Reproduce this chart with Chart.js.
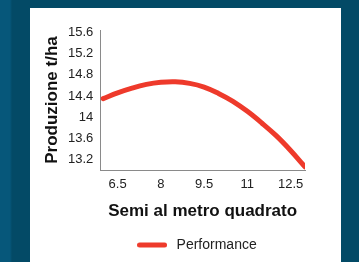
<!DOCTYPE html>
<html>
<head>
<meta charset="utf-8">
<script src="https://cdn.jsdelivr.net/npm/chart.js@4/dist/chart.umd.min.js"></script>
<style>
html,body{margin:0;padding:0;}
body{width:359px;height:262px;overflow:hidden;background:linear-gradient(90deg,#06577a 0,#06577a 10px,#034a66 12px,#034a66 100%);position:relative;font-family:"Liberation Sans",Arial,sans-serif;}
.card{position:absolute;left:30px;top:8px;width:311px;height:254px;background:#fff;}
canvas{display:block;}
</style>
</head>
<body>
<div class="card"><canvas id="c" width="311" height="254"></canvas></div>
<script>
/* ===== DATA ===== */
const seeds=[6,6.5,7,7.5,8,8.5,9,9.5,10,10.5,11,11.5,12,12.5,13];
const yields=[14.35,14.46,14.55,14.62,14.66,14.67,14.64,14.57,14.45,14.30,14.11,13.89,13.65,13.37,13.06];
const xTicks=[6.5,8,9.5,11,12.5];
const yTicks=[13.2,13.6,14,14.4,14.8,15.2,15.6];
const seriesName="Performance";
const xTitle="Semi al metro quadrato";
const yTitle="Produzione t/ha";

const red="#ee3a2b";
const font="'Liberation Sans', Arial, sans-serif";

/* legend swatch: short thick line with round ends */
const swatch=document.createElement("canvas");
swatch.width=30;swatch.height=6;
const sctx=swatch.getContext("2d");
sctx.strokeStyle=red;sctx.lineWidth=5;sctx.lineCap="round";
sctx.beginPath();sctx.moveTo(2.5,3);sctx.lineTo(27.5,3);sctx.stroke();

/* nudge legend a bit left, like the original */
const legendShift={
id:'legendShift',
afterLayout(chart){chart.legend.left-=7;chart.legend.right-=7;}
};

new Chart(document.getElementById("c"),{
type:'line',
data:{
datasets:[{
label:seriesName,
data:seeds.map((s,i)=>({x:s,y:yields[i]})),
borderColor:red,
backgroundColor:red,
borderWidth:5,
borderCapStyle:'round',
tension:.4,
pointRadius:0
}]
},
options:{
responsive:false,
animation:false,
layout:{padding:{left:14,right:36,top:22,bottom:0}},
plugins:{
legend:{
position:'bottom',
fullSize:false,
labels:{
usePointStyle:true,
pointStyleWidth:35,
boxHeight:6,
color:'#222',
padding:4,
font:{family:font,size:14},
generateLabels:chart=>Chart.defaults.plugins.legend.labels.generateLabels(chart).map(l=>({...l,pointStyle:swatch}))
}
},
tooltip:{enabled:false}
},
scales:{
x:{
type:'linear',
min:5.9,max:13,
afterBuildTicks:ax=>{ax.ticks=xTicks.map(v=>({value:v}));},
grid:{display:false,drawTicks:false},
border:{display:true,color:'#8a8a8a',width:1},
ticks:{color:'#222',padding:7,font:{family:font,size:13},callback:v=>String(v)},
title:{display:true,text:xTitle,color:'#111',padding:{top:2,bottom:12},font:{family:font,size:17,weight:'bold'}}
},
y:{
min:13,max:15.65,
afterBuildTicks:ax=>{ax.ticks=yTicks.map(v=>({value:v}));},
grid:{display:false,drawTicks:false},
border:{display:true,color:'#8a8a8a',width:1},
ticks:{color:'#222',padding:7,font:{family:font,size:13},callback:v=>String(v)},
title:{display:true,text:yTitle,color:'#111',padding:{top:0,bottom:0},font:{family:font,size:17,weight:'bold',lineHeight:1}}
}
}
},
plugins:[legendShift]
});
</script>
</body>
</html>
